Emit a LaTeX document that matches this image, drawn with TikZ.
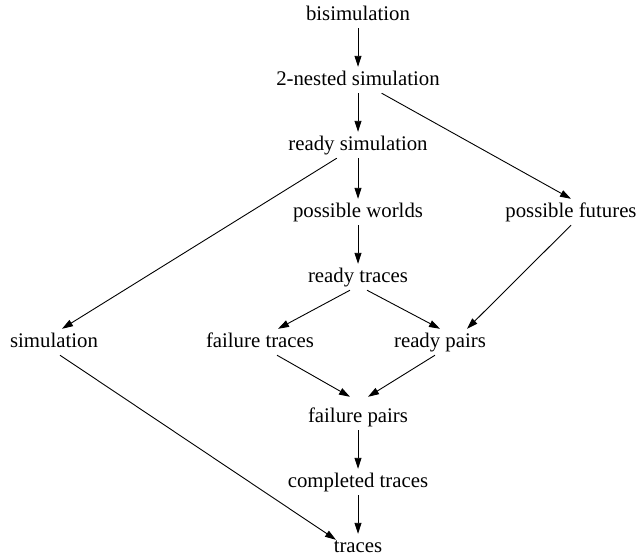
\documentclass[tikz,border=0pt]{standalone}
\usepackage{fontspec}
\setmainfont{Liberation Serif}
\usetikzlibrary{arrows.meta}
\begin{document}
\begin{tikzpicture}[x=1pt,y=-1pt,
  lbl/.style={inner xsep=1pt, inner ysep=3pt, text height=15pt, text depth=5pt,
              font=\fontsize{20.8}{25}\selectfont},
  edge/.style={-{Triangle[length=11pt,width=7pt]}, line width=0.9pt}]
\useasboundingbox[fill=white] (0,0) rectangle (639,558);
\node[lbl] (bisim)  at (358,15)  {bisimulation};
\node[lbl] (nested) at (358,80)  {2-nested simulation};
\node[lbl] (rsim)   at (358,145) {ready simulation};
\node[lbl] (worlds) at (358,212) {possible worlds};
\node[lbl] (fut)    at (571,212) {possible futures};
\node[lbl] (rtr)    at (358,277) {ready traces};
\node[lbl] (sim)    at (54,342)  {simulation};
\node[lbl] (ftr)    at (260,342) {failure traces};
\node[lbl] (rp)     at (440,342) {ready pairs};
\node[lbl] (fp)     at (358,417) {failure pairs};
\node[lbl] (ctr)    at (358,482) {completed traces};
\node[lbl] (tr)     at (358,547) {traces};

\draw[edge] (bisim) -- (nested);
\draw[edge] (nested) -- (rsim);
\draw[edge] (nested) -- (fut.north);
\draw[edge] (rsim) -- (worlds);
\draw[edge] (rsim) -- ([xshift=8pt]sim.north);
\draw[edge] (worlds) -- (rtr);
\draw[edge] (fut.south) -- ([xshift=27pt]rp.north);
\draw[edge] ([xshift=-8pt]rtr.south) -- ([xshift=18pt]ftr.north);
\draw[edge] ([xshift=9pt]rtr.south) -- (rp.north);
\draw[edge] ([xshift=6pt]sim.south) -- ([shift={(-22pt,-6pt)}]tr.north);
\draw[edge] ([xshift=17pt]ftr.south) -- ([shift={(-8pt,7pt)}]fp.north);
\draw[edge] ([xshift=-5pt]rp.south) -- ([shift={(10pt,7pt)}]fp.north);
\draw[edge] (fp) -- (ctr);
\draw[edge] (ctr) -- (tr);
\end{tikzpicture}
\end{document}
